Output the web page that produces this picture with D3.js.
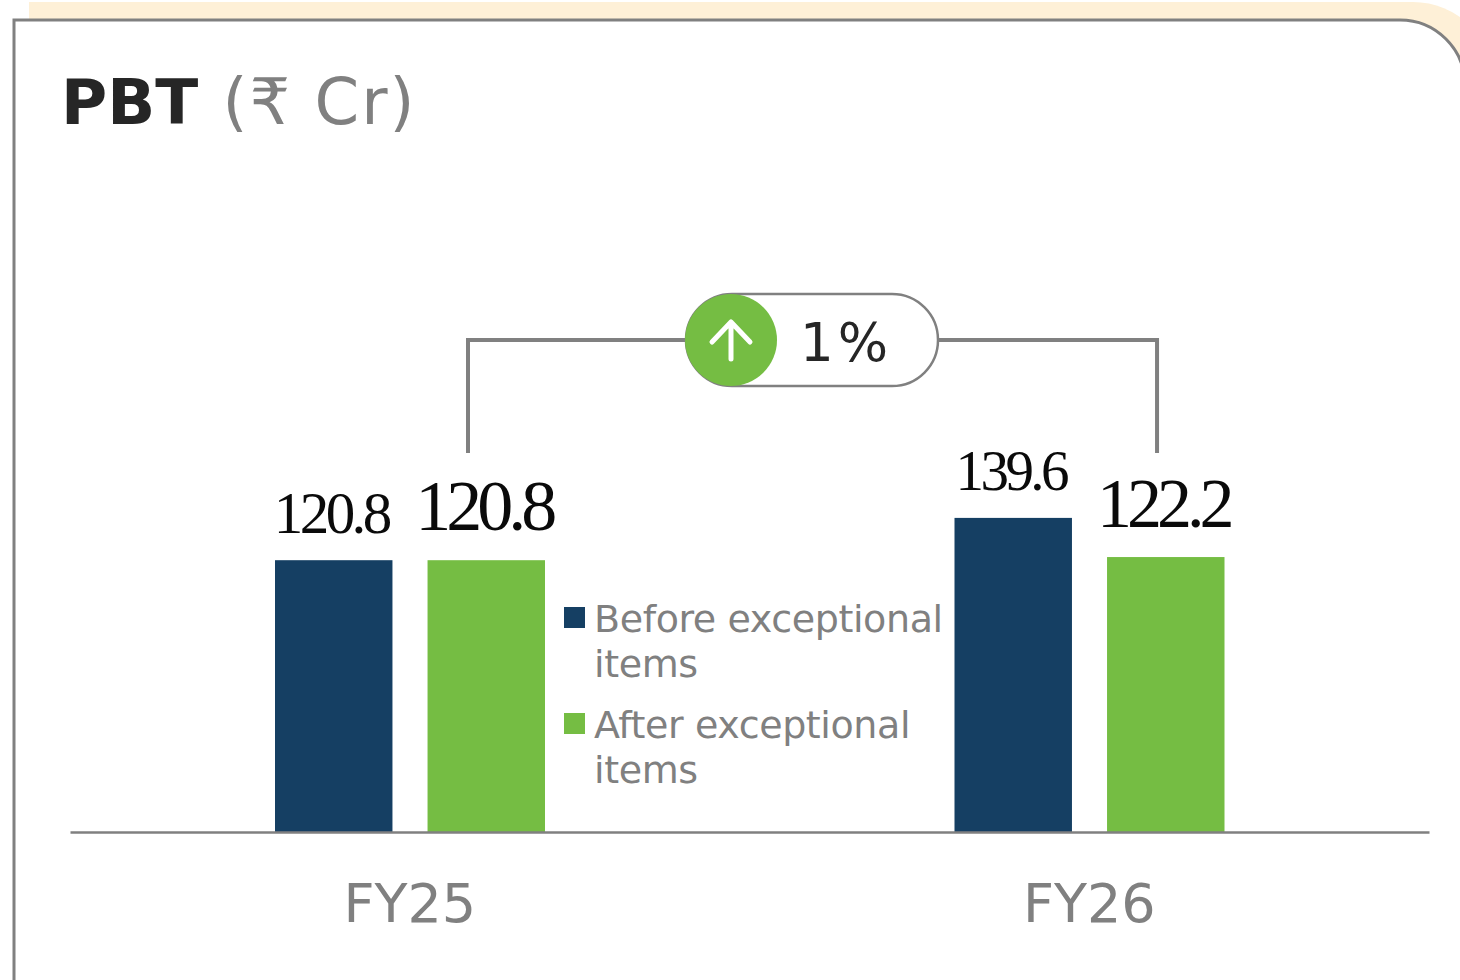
<!DOCTYPE html>
<html>
<head>
<meta charset="utf-8">
<script src="https://d3js.org/d3.v7.min.js"></script>
<style>
  html, body { margin: 0; padding: 0; background: #fff; overflow: hidden; }
  svg { display: block; }
  text { font-family: "DejaVu Sans", sans-serif; }
  .value { font-family: "Liberation Serif", serif; fill: #0a0a0a; }
</style>
</head>
<body>
<div id="chart"></div>
<script>
const categories = ['FY25', 'FY26'];
const seriesNames = ['Before exceptional items', 'After exceptional items'];
const beforeValues = [120.8, 139.6];
const afterValues = [120.8, 122.2];
const legendLines = [['Before exceptional', 'items'], ['After exceptional', 'items']];
const changeLabel = '1%';

const width = 1460;
const height = 980;
const baseline = 832;
const navy = '#153f63';
const green = '#75bd43';
const grey = '#808080';

const svg = d3.select('#chart').append('svg')
  .attr('width', width)
  .attr('height', height);

// card behind the chart, runs off the right edge like the source
svg.append('path')
  .attr('d', 'M29,20 V2 H1413 A81,81 0 0 1 1494,83 V120 H29 Z')
  .attr('fill', '#fef0d7');
svg.append('path')
  .attr('d', 'M14,990 V20 H1400 A65,65 0 0 1 1465,85 V990 Z')
  .attr('fill', '#fff')
  .attr('stroke', grey)
  .attr('stroke-width', 3);

const title = svg.append('text')
  .attr('x', 61)
  .attr('y', 124)
  .attr('font-size', 64);
title.append('tspan').attr('font-weight', 700).attr('font-size', 63).attr('fill', '#262626').text('PBT');
title.append('tspan').attr('fill', grey).attr('dx', 2).attr('letter-spacing', 2).text(' (₹ Cr)');

const x0 = d3.scaleBand().domain(categories).range([70, 1429]);
const x1 = d3.scaleBand().domain(seriesNames).range([205, 475]).paddingInner(0.23);
const y = d3.scaleLinear().domain([0, 140]).range([baseline, baseline - 315]);

const rows = categories.map((c, i) => [
  { category: c, series: seriesNames[0], value: beforeValues[i], color: navy },
  { category: c, series: seriesNames[1], value: afterValues[i], color: green }
]);

const groups = svg.selectAll('.group')
  .data(rows)
  .enter().append('g')
  .attr('class', 'group')
  .attr('transform', (d, i) => `translate(${x0(categories[i])},0)`);

groups.selectAll('rect')
  .data(d => d)
  .enter().append('rect')
  .attr('x', d => x1(d.series))
  .attr('y', d => y(d.value))
  .attr('width', x1.bandwidth())
  .attr('height', d => baseline - y(d.value))
  .attr('fill', d => d.color);

// the source sets each label at its own size
const labelSizes = [[59, 72], [57, 70]];
const labelSpacing = [[-3.6, -5], [-3.6, -5]];
const labelGap = [[-27, -30], [-28, -30]];

groups.each(function (row, i) {
  d3.select(this).selectAll('.value')
    .data(row)
    .enter().append('text')
    .attr('class', 'value')
    .attr('x', d => x1(d.series) + x1.bandwidth() / 2 - 2.5)
    .attr('y', (d, j) => y(d.value) + labelGap[i][j])
    .attr('text-anchor', 'middle')
    .attr('font-size', (d, j) => labelSizes[i][j])
    .attr('letter-spacing', (d, j) => labelSpacing[i][j])
    .text(d => d.value.toFixed(1));
});

const axis = svg.append('g')
  .attr('transform', `translate(0,${baseline})`)
  .call(d3.axisBottom(x0).tickSize(0).tickPadding(52));
axis.select('.domain').attr('stroke', grey).attr('stroke-width', 2.5);
axis.selectAll('text')
  .attr('font-family', '"DejaVu Sans", sans-serif')
  .attr('font-size', 54)
  .attr('fill', grey);

// connector between the two after-exceptional bars
const pillY = 340;
const connectorX = [x0('FY25') + x1(seriesNames[0]) + 193, x0('FY26') + x1(seriesNames[1]) + 50];
svg.append('path')
  .attr('d', d3.line()([[connectorX[0], 453], [connectorX[0], pillY], [connectorX[1], pillY], [connectorX[1], 453]]))
  .attr('fill', 'none')
  .attr('stroke', grey)
  .attr('stroke-width', 4);

svg.append('rect')
  .attr('x', 686)
  .attr('y', 294)
  .attr('width', 252)
  .attr('height', 92)
  .attr('rx', 46)
  .attr('fill', '#fff')
  .attr('stroke', grey)
  .attr('stroke-width', 2.5);
svg.append('circle')
  .attr('cx', 731)
  .attr('cy', pillY)
  .attr('r', 46)
  .attr('fill', green);
svg.append('path')
  .attr('d', 'M731,359 V322 M712,342 L731,322 L750,342')
  .attr('fill', 'none')
  .attr('stroke', '#fff')
  .attr('stroke-width', 5)
  .attr('stroke-linecap', 'round')
  .attr('stroke-linejoin', 'round');
svg.append('text')
  .attr('x', 800)
  .attr('y', 361)
  .attr('font-size', 53)
  .attr('letter-spacing', 4)
  .attr('fill', '#262626')
  .text(changeLabel);

const legend = svg.selectAll('.legend')
  .data(seriesNames)
  .enter().append('g')
  .attr('class', 'legend')
  .attr('transform', (d, i) => `translate(564,${607 + i * 106})`);
legend.append('rect')
  .attr('width', 21)
  .attr('height', 21)
  .attr('fill', (d, i) => [navy, green][i]);
legend.each(function (d, i) {
  d3.select(this).selectAll('text')
    .data(legendLines[i])
    .enter().append('text')
    .attr('x', 30)
    .attr('y', (t, k) => 25 + k * 45)
    .attr('font-size', 38)
    .attr('letter-spacing', -0.4)
    .attr('fill', grey)
    .text(t => t);
});
</script>
</body>
</html>
